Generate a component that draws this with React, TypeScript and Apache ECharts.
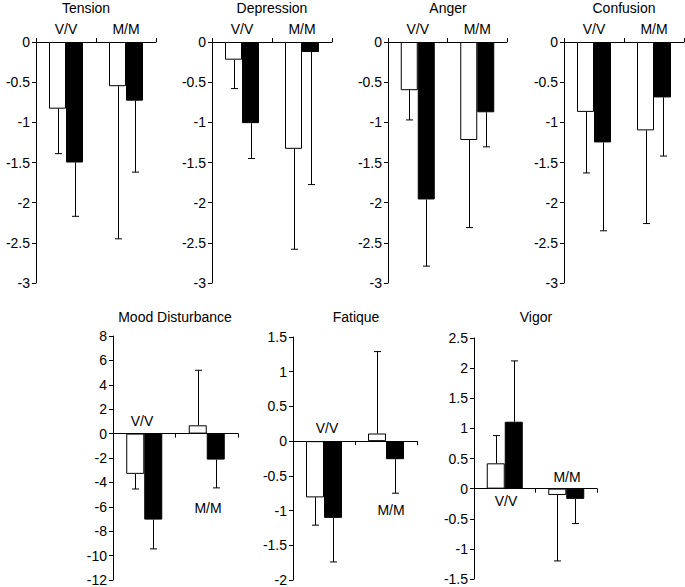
import React, { useEffect, useRef } from "react";
import * as echarts from "echarts";

const categories = ["V/V", "M/M"];
const titles = ["Tension", "Depression", "Anger", "Confusion", "Mood Disturbance", "Fatique", "Vigor"];

// open bars (first condition) and filled bars (second condition): means and SD
const tensionWhite = [-0.83, -0.55];
const tensionWhiteSD = [0.56, 1.9];
const tensionBlack = [-1.5, -0.73];
const tensionBlackSD = [0.67, 0.89];

const depressionWhite = [-0.22, -1.33];
const depressionWhiteSD = [0.36, 1.25];
const depressionBlack = [-1.01, -0.125];
const depressionBlackSD = [0.44, 1.65];

const angerWhite = [-0.6, -1.22];
const angerWhiteSD = [0.37, 1.09];
const angerBlack = [-1.96, -0.875];
const angerBlackSD = [0.83, 0.43];

const confusionWhite = [-0.87, -1.1];
const confusionWhiteSD = [0.76, 1.16];
const confusionBlack = [-1.25, -0.69];
const confusionBlackSD = [1.1, 0.73];

const moodWhite = [-3.3, 0.68];
const moodWhiteSD = [1.24, 4.51];
const moodBlack = [-7.05, -2.13];
const moodBlackSD = [2.4, 2.32];

const fatiqueWhite = [-0.81, 0.11];
const fatiqueWhiteSD = [0.4, 1.18];
const fatiqueBlack = [-1.105, -0.26];
const fatiqueBlackSD = [0.635, 0.49];

const vigorWhite = [0.42, -0.105];
const vigorWhiteSD = [0.46, 1.095];
const vigorBlack = [1.11, -0.17];
const vigorBlackSD = [1.01, 0.41];

const yMin = [-3, -3, -3, -3, -12, -2, -1.5];
const yMax = [0, 0, 0, 0, 8, 1.5, 2.5];
const yStep = [0.5, 0.5, 0.5, 0.5, 2, 0.5, 0.5];

const panels = [
  [tensionWhite, tensionWhiteSD, tensionBlack, tensionBlackSD],
  [depressionWhite, depressionWhiteSD, depressionBlack, depressionBlackSD],
  [angerWhite, angerWhiteSD, angerBlack, angerBlackSD],
  [confusionWhite, confusionWhiteSD, confusionBlack, confusionBlackSD],
  [moodWhite, moodWhiteSD, moodBlack, moodBlackSD],
  [fatiqueWhite, fatiqueWhiteSD, fatiqueBlack, fatiqueBlackSD],
  [vigorWhite, vigorWhiteSD, vigorBlack, vigorBlackSD],
];

const FONT = '"Liberation Sans", Arial, Helvetica, sans-serif';
const FS = 14;

const gridRects = [
  { left: 36, top: 42, width: 120, height: 241 },
  { left: 212, top: 42, width: 120, height: 241 },
  { left: 388, top: 42, width: 119, height: 241 },
  { left: 564, top: 42, width: 120, height: 241 },
  { left: 113, top: 336, width: 125, height: 244 },
  { left: 293, top: 337, width: 124, height: 243 },
  { left: 474, top: 338, width: 123, height: 241 },
];

const titlePos = [
  [86, 8], [272, 8], [448, 8], [624, 8],
  [175, 317], [356, 317], [536, 317],
];

// category labels placed freely in the lower panels
const freeLabels = [
  { text: categories[0], x: 142, y: 421 },
  { text: categories[1], x: 208, y: 508 },
  { text: categories[0], x: 327, y: 428 },
  { text: categories[1], x: 391, y: 510 },
  { text: categories[1], x: 567, y: 477 },
  { text: categories[0], x: 506, y: 501 },
];

function errRender(offset: number) {
  return (params: any, api: any) => {
    const cat = api.value(0);
    const mean = api.value(1);
    const sd = api.value(2);
    const end = mean >= 0 ? mean + sd : mean - sd;
    const p0 = api.coord([cat, mean]);
    const p1 = api.coord([cat, end]);
    const x = Math.round(p0[0] + offset) + 0.5;
    return {
      type: "group",
      children: [
        { type: "line", shape: { x1: x, y1: p0[1], x2: x, y2: p1[1] }, style: { stroke: "#000", lineWidth: 1 } },
        { type: "line", shape: { x1: x - 3.5, y1: p1[1], x2: x + 3.5, y2: p1[1] }, style: { stroke: "#000", lineWidth: 1 } },
      ],
    };
  };
}

export default function App() {
  const ref = useRef<HTMLDivElement>(null);
  useEffect(() => {
    if (!ref.current) return;
    const chart = echarts.init(ref.current, undefined, { renderer: "svg" });
    const grid: any[] = [];
    const xAxis: any[] = [];
    const yAxis: any[] = [];
    const series: any[] = [];
    panels.forEach((p, i) => {
      const top = i < 4;
      const bw = top ? 17 : 18;
      grid.push({ ...gridRects[i], containLabel: false, outerBoundsMode: "none" });
      xAxis.push({
        type: "category",
        gridIndex: i,
        data: categories,
        position: top ? "top" : "bottom",
        axisLine: { show: true, onZero: !top, lineStyle: { color: "#000", width: 1 } },
        axisTick: { show: true, length: 4, lineStyle: { color: "#000" } },
        axisLabel: { show: top, color: "#000", fontSize: FS, fontFamily: FONT, margin: 6 },
        splitLine: { show: false },
      });
      yAxis.push({
        type: "value",
        gridIndex: i,
        min: yMin[i],
        max: yMax[i],
        interval: yStep[i],
        axisLine: { show: true, lineStyle: { color: "#000", width: 1 } },
        axisTick: { show: true, length: 4, lineStyle: { color: "#000" } },
        axisLabel: { color: "#000", fontSize: FS, fontFamily: FONT, margin: 6 },
        splitLine: { show: false },
      });
      const [w, wsd, b, bsd] = p;
      series.push({
        type: "bar",
        xAxisIndex: i,
        yAxisIndex: i,
        data: w,
        barWidth: bw,
        barGap: "0%",
        itemStyle: { color: "#fff", borderColor: "#000", borderWidth: 1 },
      });
      series.push({
        type: "bar",
        xAxisIndex: i,
        yAxisIndex: i,
        data: b,
        barWidth: bw,
        barGap: "0%",
        itemStyle: { color: "#000", borderColor: "#000", borderWidth: 1 },
      });
      series.push({
        type: "custom",
        xAxisIndex: i,
        yAxisIndex: i,
        data: w.map((v: number, k: number) => [k, v, wsd[k]]),
        encode: { x: 0, y: 1 },
        renderItem: errRender(-bw / 2),
        clip: false,
        z: 3,
      });
      series.push({
        type: "custom",
        xAxisIndex: i,
        yAxisIndex: i,
        data: b.map((v: number, k: number) => [k, v, bsd[k]]),
        encode: { x: 0, y: 1 },
        renderItem: errRender(bw / 2),
        clip: false,
        z: 3,
      });
    });
    const graphic: any[] = [];
    titles.forEach((t, i) => {
      graphic.push({
        type: "text",
        x: titlePos[i][0],
        y: titlePos[i][1],
        style: { text: t, fill: "#000", font: `${FS}px ${FONT}`, align: "center", verticalAlign: "middle" },
      });
    });
    freeLabels.forEach((l) => {
      graphic.push({
        type: "text",
        x: l.x,
        y: l.y,
        style: { text: l.text, fill: "#000", font: `${FS}px ${FONT}`, align: "center", verticalAlign: "middle" },
      });
    });
    chart.setOption({
      animation: false,
      backgroundColor: "#fff",
      grid,
      xAxis,
      yAxis,
      series,
      graphic,
    });
    return () => chart.dispose();
  }, []);
  return (
    <div
      ref={ref}
      style={{ position: "absolute", left: 0, top: 0, width: 685, height: 587, background: "#fff" }}
    />
  );
}
